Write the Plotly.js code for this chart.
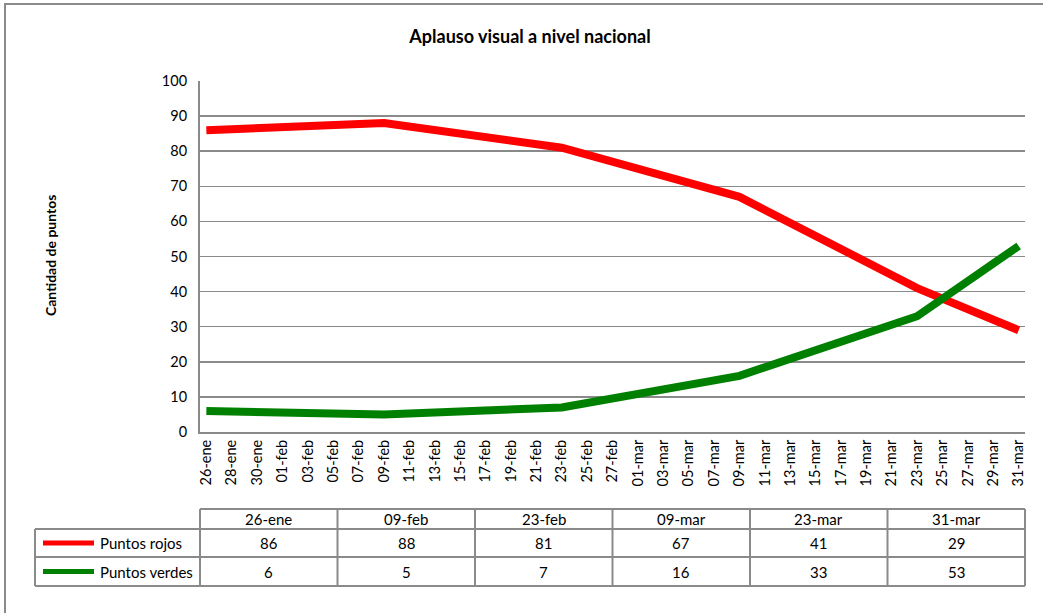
<!DOCTYPE html>
<html>
<head>
<meta charset="utf-8">
<script src="https://cdn.plot.ly/plotly-3.0.1.min.js"></script>
<style>html,body{margin:0;padding:0;background:#fff;}#chart{width:1043px;height:613px;}</style>
</head>
<body>
<div id="chart"></div>
<script>
// ---- data ----
var fechas = ['2021-01-26', '2021-02-09', '2021-02-23', '2021-03-09', '2021-03-23', '2021-03-31'];
var puntosRojos = [86, 88, 81, 67, 41, 29];
var puntosVerdes = [6, 5, 7, 16, 33, 53];
var serieNombres = ['Puntos rojos', 'Puntos verdes'];
var mesesCortos = ['ene', 'feb', 'mar', 'abr', 'may', 'jun', 'jul', 'ago', 'sep', 'oct', 'nov', 'dic'];
var mesesLargos = ['enero', 'febrero', 'marzo', 'abril', 'mayo', 'junio', 'julio', 'agosto', 'septiembre', 'octubre', 'noviembre', 'diciembre'];

Plotly.register({
  moduleType: 'locale',
  name: 'es-cl',
  dictionary: {},
  format: {
    days: ['domingo', 'lunes', 'martes', 'miércoles', 'jueves', 'viernes', 'sábado'],
    shortDays: ['dom', 'lun', 'mar', 'mié', 'jue', 'vie', 'sáb'],
    months: mesesLargos,
    shortMonths: mesesCortos
  }
});

function etiqueta(d) {
  var p = d.split('-');
  return p[2] + '-' + mesesCortos[parseInt(p[1], 10) - 1];
}

var FONT = 'Lato, "Open Sans", sans-serif';
var GRIS = '#8a8a8a';
// layout geometry helpers (pixel -> paper)
var L = 200, R = 1025, T = 81, B = 432;
function px(x) { return (x - L) / (R - L); }
function py(y) { return (B - y) / (B - T); }

var traces = [
  { x: fechas, y: puntosRojos, name: serieNombres[0], type: 'scatter', mode: 'lines',
    line: { color: '#ff0000', width: 8 } },
  { x: fechas, y: puntosVerdes, name: serieNombres[1], type: 'scatter', mode: 'lines',
    line: { color: '#008000', width: 8 } }
];

var shapes = [];
var annotations = [];

// outer border
shapes.push({ type: 'rect', xref: 'paper', yref: 'paper', x0: px(5), x1: px(1048), y0: py(4), y1: py(618),
  line: { color: GRIS, width: 2 }, fillcolor: 'rgba(0,0,0,0)', layer: 'below' });

// data table
var rowTop = 509, rowH1 = 529, rowH2 = 557, rowH3 = 586, leftX = 35;
var n = fechas.length;
function hline(x0, x1, y) { shapes.push({ type: 'line', xref: 'paper', yref: 'paper', x0: x0, x1: x1, y0: py(y), y1: py(y), line: { color: GRIS, width: 2 } }); }
function vline(x, y0, y1) { shapes.push({ type: 'line', xref: 'paper', yref: 'paper', x0: x, x1: x, y0: py(y0), y1: py(y1), line: { color: GRIS, width: 2 } }); }
hline(0, 1, rowTop);
hline(px(leftX), 1, rowH1);
hline(px(leftX), 1, rowH2);
hline(px(leftX), 1, rowH3);
vline(px(leftX), rowH1, rowH3);
for (var i = 0; i <= n; i++) vline(i / n, rowTop, rowH3);

var filas = [puntosRojos, puntosVerdes];
var colores = ['#ff0000', '#008000'];
var filaY = [(rowH1 + rowH2) / 2, (rowH2 + rowH3) / 2];
for (var i = 0; i < n; i++) {
  var cx = (i + 0.5) / n;
  annotations.push({ xref: 'paper', yref: 'paper', x: cx, y: py((rowTop + rowH1) / 2), text: etiqueta(fechas[i]),
    showarrow: false, xanchor: 'center', yanchor: 'middle', font: { family: FONT, size: 15, color: '#000' } });
  for (var r = 0; r < 2; r++) {
    annotations.push({ xref: 'paper', yref: 'paper', x: cx, y: py(filaY[r]), text: String(filas[r][i]),
      showarrow: false, xanchor: 'center', yanchor: 'middle', font: { family: FONT, size: 15, color: '#000' } });
  }
}
for (var r = 0; r < 2; r++) {
  shapes.push({ type: 'line', xref: 'paper', yref: 'paper', x0: px(43), x1: px(94), y0: py(filaY[r]), y1: py(filaY[r]),
    line: { color: colores[r], width: 5 } });
  annotations.push({ xref: 'paper', yref: 'paper', x: px(98), y: py(filaY[r]), text: serieNombres[r],
    showarrow: false, xanchor: 'left', yanchor: 'middle', font: { family: FONT, size: 15, color: '#000' } });
}

// y-axis title
annotations.push({ xref: 'paper', yref: 'paper', x: px(50), y: py(256), text: '<b>Cantidad de puntos</b>', textangle: -90,
  showarrow: false, xanchor: 'center', yanchor: 'middle', font: { family: FONT, size: 14, color: '#000' } });

var layout = {
  width: 1043, height: 613,
  margin: { l: L, r: 1043 - R, t: T, b: 613 - B, pad: 0 },
  paper_bgcolor: '#fff', plot_bgcolor: '#fff',
  showlegend: false,
  title: { text: '<b>Aplauso visual a nivel nacional</b>', x: 530 / 1043, xanchor: 'center', xref: 'container',
    y: 1 - 37 / 613, yanchor: 'middle', yref: 'container', font: { family: FONT, size: 18, color: '#000' } },
  xaxis: {
    type: 'date',
    range: ['2021-01-25 12:00', '2021-03-31 12:00'],
    tick0: '2021-01-26', dtick: 2 * 86400000,
    tickformat: '%d-%b', tickangle: -90,
    showgrid: false, showline: true, linecolor: GRIS, linewidth: 2,
    ticks: '', zeroline: false,
    tickfont: { family: FONT, size: 14.5, color: '#000' },
    fixedrange: true
  },
  yaxis: {
    range: [0, 100], dtick: 10, tick0: 0,
    showgrid: true, gridcolor: GRIS, gridwidth: 1.5,
    showline: true, linecolor: GRIS, linewidth: 2,
    zeroline: false, ticks: '',
    ticklabelstandoff: 8,
    tickfont: { family: FONT, size: 14.5, color: '#000' },
    fixedrange: true
  },
  shapes: shapes,
  annotations: annotations
};

Plotly.newPlot('chart', traces, layout, { displayModeBar: false, staticPlot: true, locale: 'es-cl' });
</script>
</body>
</html>
